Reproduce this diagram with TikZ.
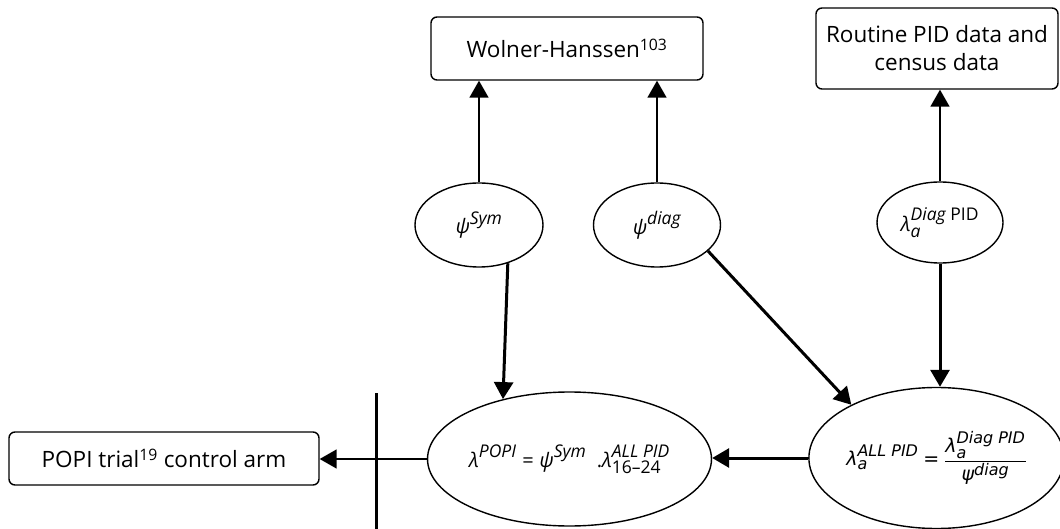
\documentclass[tikz,border=0pt]{standalone}
\usepackage{fontspec}
\usepackage{amsmath}
\setmainfont{Open Sans}
\newfontfamily\dvs{DejaVu Sans}
\usetikzlibrary{arrows.meta,shapes.geometric,calc}
\newcommand\ti[1]{\text{\itshape #1}}
\newcommand\sS[1]{\text{\fontsize{17.5}{19}\selectfont\itshape #1}}
\newcommand\sU[1]{\text{\fontsize{17.5}{19}\selectfont #1}}
\newcommand\dS[1]{\text{\fontsize{16}{18}\selectfont\itshape #1}}
\begin{document}
\begin{tikzpicture}[x=1pt,y=-1pt,
 box/.style={draw,rounded corners=6pt,line width=1.4pt,inner sep=0pt,align=center,font=\fontsize{22.5}{28}\selectfont},
 ell/.style={draw,ellipse,line width=1.4pt,inner sep=0pt,font=\fontsize{20}{24}\selectfont},
 thinarr/.style={line width=1.6pt,-{Triangle[length=17pt,width=19pt]}},
 thickarr/.style={line width=3pt,-{Triangle[length=17pt,width=19pt]}}]
\useasboundingbox (0,0) rectangle (1060,529);
\node[box,minimum width=272pt,minimum height=63pt] (wh) at (567,48.5) {Wolner-Hanssen\textsuperscript{103}};
\node[box,minimum width=242pt,minimum height=81pt] (rt) at (937,48.5) {Routine PID data and\\census data};
\node[box,minimum width=310pt,minimum height=53pt] (pb) at (164,458.5) {POPI trial\textsuperscript{19} control arm};
\node[ell,minimum width=128pt,minimum height=84pt] (psym) at (479,225) {$\ti{ψ}^{\sS{Sym}}$};
\node[ell,minimum width=127pt,minimum height=84pt] (pdiag) at (657,225) {$\ti{ψ}^{\sS{diag}}$};
\node[ell,minimum width=126pt,minimum height=81pt] (ldiag) at (940,222.5) {$\ti{λ}_{\sS{a}}^{\sS{Diag}\sU{ PID}}$};
\node[ell,minimum width=265pt,minimum height=134pt] (popi) at (569.5,459) {$\ti{λ}^{\sS{POPI}}\mathrel{\text{=}}\ti{ψ}^{\sS{Sym}}\ \ \text{.}\ti{λ}^{\sS{ALL PID}}_{\sU{16–24}}$};
\node[ell,minimum width=243pt,minimum height=141pt,font=\fontsize{19}{23}\selectfont\dvs] (all) at (936.5,458) {$\ti{λ}_{\dS{a}}^{\dS{ALL PID}}\mathrel{\text{=}}\dfrac{\ti{λ}_{\dS{a}}^{\dS{Diag PID}}}{\ti{ψ}^{\dS{diag}}}$};
\coordinate (bt) at (376,393);
\coordinate (bb) at (376,529);
\draw[line width=3pt] (bt) -- (bb);
\draw[thinarr] (psym.north) -- (psym.north |- wh.south);
\draw[thinarr] (pdiag.north) -- (pdiag.north |- wh.south);
\draw[thinarr] (ldiag.north) -- (ldiag.north |- rt.south);
\draw[thickarr] (psym.-53) -- (popi.138);
\draw[thickarr] (pdiag.-27) -- (all.148.5);
\draw[thickarr] (ldiag.south) -- (ldiag.south |- all.north);
\draw[thickarr] (all.west) -- (all.west -| popi.east);
\draw[thinarr] (popi.west) -- (popi.west -| pb.east);
\end{tikzpicture}
\end{document}
